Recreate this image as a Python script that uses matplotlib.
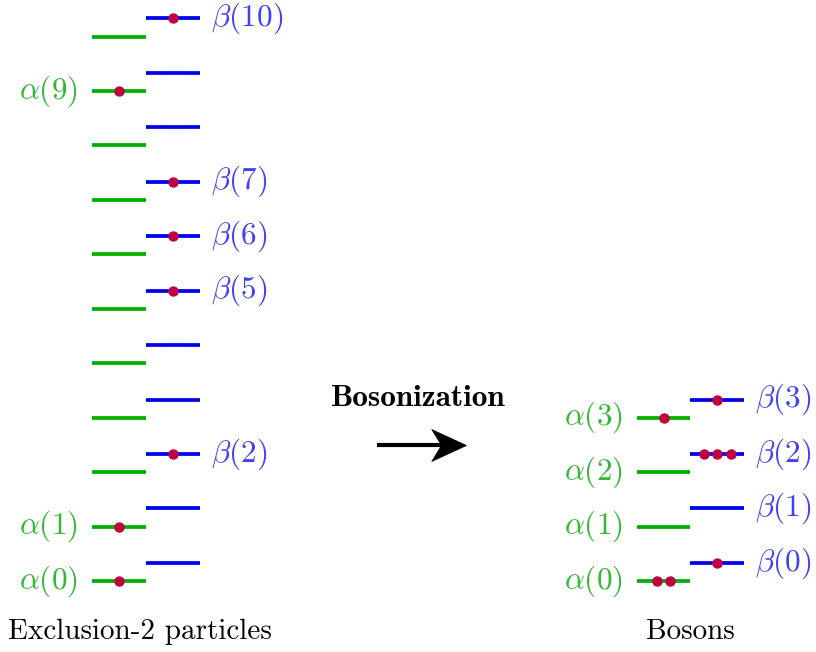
import matplotlib
matplotlib.use("Agg")
import matplotlib.pyplot as plt
from matplotlib.path import Path

plt.rcParams['mathtext.fontset'] = 'cm'

# Data
excl_alpha_levels = list(range(11))
excl_beta_levels = list(range(11))
excl_alpha_occ = {0: 1, 1: 1, 9: 1}
excl_beta_occ = {2: 1, 5: 1, 6: 1, 7: 1, 10: 1}
excl_alpha_labels = [0, 1, 9]
excl_beta_labels = [2, 5, 6, 7, 10]

bos_alpha_levels = [0, 1, 2, 3]
bos_beta_levels = [0, 1, 2, 3]
bos_alpha_occ = {0: 2, 3: 1}
bos_beta_occ = {0: 1, 2: 3, 3: 1}

GREEN = '#00b000'
GREEN_T = '#33b833'
BLUE = '#0000ee'
BLUE_T = '#4040f5'
DOT = '#c0003c'

fig = plt.figure(figsize=(8.16, 6.52), dpi=100)
ax = fig.add_axes([0, 0, 1, 1])
ax.set_xlim(0, 816)
y0pix, sp = 581.0, 54.45
ax.set_ylim((y0pix - 652) / sp, y0pix / sp)
ax.axis('off')

BETA_OFF = 1 / 3
LW = 2.7
MS = 7.5
FS = 22.5
dot_gap = 13.5


def draw_level(x0, x1, y, color, n, dotpos):
    ax.plot([x0, x1], [y, y], color=color, lw=LW, solid_capstyle='butt', zorder=1)
    if n:
        xs = [dotpos + (k - (n - 1) / 2) * dot_gap for k in range(n)]
        ax.plot(xs, [y] * n, 'o', color=DOT, ms=MS, mec='none', zorder=2)


# Left: exclusion-2
gx0, gx1 = 92, 146
bx0, bx1 = 146, 200
for lv in excl_alpha_levels:
    draw_level(gx0, gx1, lv, GREEN, excl_alpha_occ.get(lv, 0), (gx0 + gx1) / 2)
for lv in excl_beta_levels:
    draw_level(bx0, bx1, lv + BETA_OFF, BLUE, excl_beta_occ.get(lv, 0), (bx0 + bx1) / 2)
for lv in excl_alpha_labels:
    ax.text(gx0 - 14, lv, r'$\alpha(%d)$' % lv, color=GREEN_T, fontsize=FS,
            ha='right', va='center')
for lv in excl_beta_labels:
    ax.text(bx1 + 11, lv + BETA_OFF, r'$\beta(%d)$' % lv, color=BLUE_T, fontsize=FS,
            ha='left', va='center')

# Right: bosons
rgx0, rgx1 = 637, 690
rbx0, rbx1 = 690, 744
for lv in bos_alpha_levels:
    draw_level(rgx0, rgx1, lv, GREEN, bos_alpha_occ.get(lv, 0), (rgx0 + rgx1) / 2)
    ax.text(rgx0 - 14, lv, r'$\alpha(%d)$' % lv, color=GREEN_T, fontsize=FS,
            ha='right', va='center')
for lv in bos_beta_levels:
    draw_level(rbx0, rbx1, lv + BETA_OFF, BLUE, bos_beta_occ.get(lv, 0), (rbx0 + rbx1) / 2)
    ax.text(rbx1 + 11, lv + BETA_OFF, r'$\beta(%d)$' % lv, color=BLUE_T, fontsize=FS,
            ha='left', va='center')

# Arrow (stealth-like head) and label
ya = (y0pix - 445) / sp
ax.plot([377, 455], [ya, ya], color='black', lw=3.0, solid_capstyle='butt')
head = Path([(0, 0), (-1, 0.46), (-0.72, 0), (-1, -0.46), (0, 0)],
            [Path.MOVETO, Path.CURVE3, Path.LINETO, Path.LINETO, Path.CURVE3][:1] +
            [Path.LINETO] * 3 + [Path.CLOSEPOLY])
ax.plot([466], [ya], marker=head, ms=50, color='black', mec='black', mew=0.5, zorder=3)
ax.text(418, (y0pix - 399) / sp, 'Bosonization', fontfamily='cmb10', fontsize=22.5,
        ha='center', va='center')

yb = (y0pix - 632) / sp
ax.text(140, yb, 'Exclusion-2 particles', fontfamily='cmr10', fontsize=21,
        ha='center', va='center')
ax.text(690, yb, 'Bosons', fontfamily='cmr10', fontsize=21, ha='center', va='center')

fig.savefig('out.png', dpi=100)
